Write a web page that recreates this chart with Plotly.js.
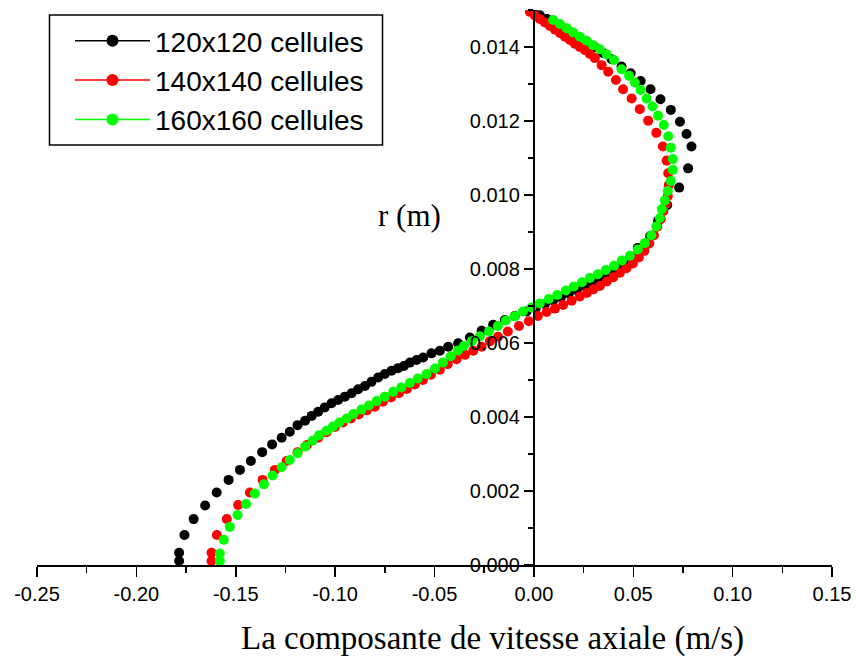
<!DOCTYPE html>
<html>
<head>
<meta charset="utf-8">
<script src="https://cdn.plot.ly/plotly-3.0.1.min.js"></script>
<style>html,body{margin:0;padding:0;background:#fff;}#chart{width:856px;height:659px;}</style>
</head>
<body>
<div id="chart"></div>
<script>
// Series names
const seriesNames = ["120x120 cellules", "140x140 cellules", "160x160 cellules"];
const seriesColors = ["#000000", "#ff0000", "#00ff00"];

// 120x120 cellules : axial velocity (m/s) and radius r (m)
const v120 = [-0.1785,-0.1785,-0.1758,-0.1712,-0.1654,-0.1596,-0.1536,-0.1479,-0.1424,-0.1367,
  -0.1317,-0.1269,-0.1228,-0.1189,-0.1151,-0.1118,-0.1085,-0.1052,-0.1018,-0.0985,
  -0.0951,-0.0917,-0.0884,-0.0850,-0.0817,-0.0783,-0.0750,-0.0716,-0.0683,-0.0654,
  -0.0624,-0.0590,-0.0557,-0.0515,-0.0473,-0.0431,-0.0381,-0.0322,-0.0263,-0.0205,
  -0.0146,-0.0096,-0.0037,0.0010,0.0055,0.0096,0.0136,0.0176,0.0216,0.0257,
  0.0297,0.0337,0.0377,0.0418,0.0453,0.0488,0.0523,0.0585,0.0625,0.0671,
  0.0731,0.0776,0.0793,0.0768,0.0735,0.0689,0.0637,0.0587,0.0537,0.0487,
  0.0441,0.0391,0.0347,0.0307,0.0267,0.0226,0.0186,0.0146,0.0106,0.0065,
  0.0030,-0.0005];
const r120 = [0.00011,0.00033,0.00081,0.00124,0.00161,0.00196,0.00230,0.00257,0.00281,0.00305,
  0.00326,0.00344,0.00360,0.00378,0.00390,0.00403,0.00414,0.00426,0.00437,0.00446,
  0.00455,0.00464,0.00475,0.00484,0.00495,0.00507,0.00516,0.00525,0.00532,0.00538,
  0.00547,0.00554,0.00561,0.00572,0.00579,0.00590,0.00599,0.00615,0.00633,0.00649,
  0.00662,0.00673,0.00685,0.00695,0.00705,0.00715,0.00724,0.00734,0.00743,0.00754,
  0.00765,0.00776,0.00788,0.00801,0.00816,0.00834,0.00857,0.00889,0.00930,0.00973,
  0.01020,0.01072,0.01131,0.01165,0.01198,0.01230,0.01259,0.01286,0.01308,0.01329,
  0.01347,0.01367,0.01384,0.01399,0.01414,0.01427,0.01439,0.01451,0.01464,0.01476,
  0.01486,0.01497];

// 140x140 cellules
const v140 = [-0.1622,-0.1622,-0.1595,-0.1545,-0.1488,-0.1429,-0.1365,-0.1303,-0.1244,-0.1189,
  -0.1142,-0.1085,-0.1043,-0.1001,-0.0961,-0.0921,-0.0881,-0.0840,-0.0800,-0.0760,
  -0.0719,-0.0679,-0.0639,-0.0599,-0.0558,-0.0518,-0.0473,-0.0433,-0.0389,-0.0347,
  -0.0305,-0.0263,-0.0221,-0.0180,-0.0131,-0.0075,-0.0025,0.0020,0.0064,0.0106,
  0.0147,0.0190,0.0231,0.0267,0.0299,0.0332,0.0367,0.0400,0.0433,0.0466,
  0.0498,0.0528,0.0556,0.0581,0.0604,0.0621,0.0639,0.0652,0.0664,0.0674,
  0.0679,0.0676,0.0668,0.0649,0.0616,0.0575,0.0533,0.0492,0.0449,0.0413,
  0.0374,0.0341,0.0307,0.0282,0.0257,0.0231,0.0206,0.0181,0.0156,0.0131,
  0.0106,0.0081,0.0055,0.0030,0.0005,-0.0020];
const r140 = [0.00011,0.00033,0.00081,0.00124,0.00162,0.00196,0.00230,0.00257,0.00281,0.00305,
  0.00324,0.00344,0.00359,0.00373,0.00385,0.00396,0.00407,0.00418,0.00428,0.00441,
  0.00453,0.00464,0.00476,0.00488,0.00500,0.00514,0.00528,0.00543,0.00556,0.00568,
  0.00579,0.00590,0.00605,0.00617,0.00631,0.00646,0.00659,0.00673,0.00684,0.00693,
  0.00703,0.00714,0.00726,0.00735,0.00745,0.00754,0.00766,0.00778,0.00790,0.00802,
  0.00815,0.00831,0.00849,0.00869,0.00891,0.00914,0.00935,0.00957,0.00976,0.00997,
  0.01027,0.01059,0.01093,0.01131,0.01168,0.01201,0.01232,0.01261,0.01286,0.01311,
  0.01333,0.01351,0.01370,0.01381,0.01391,0.01400,0.01409,0.01419,0.01428,0.01438,
  0.01447,0.01457,0.01466,0.01476,0.01485,0.01495];

// 160x160 cellules
const v160 = [-0.1580,-0.1580,-0.1560,-0.1530,-0.1491,-0.1448,-0.1404,-0.1358,-0.1315,-0.1269,
  -0.1228,-0.1189,-0.1151,-0.1113,-0.1080,-0.1043,-0.1011,-0.0979,-0.0942,-0.0908,
  -0.0867,-0.0830,-0.0791,-0.0750,-0.0708,-0.0667,-0.0624,-0.0584,-0.0540,-0.0498,
  -0.0458,-0.0418,-0.0382,-0.0352,-0.0312,-0.0272,-0.0226,-0.0181,-0.0141,-0.0096,
  -0.0055,-0.0012,0.0030,0.0075,0.0118,0.0161,0.0201,0.0242,0.0282,0.0322,
  0.0362,0.0403,0.0443,0.0483,0.0523,0.0558,0.0591,0.0616,0.0634,0.0644,
  0.0659,0.0674,0.0689,0.0699,0.0699,0.0689,0.0676,0.0654,0.0625,0.0597,
  0.0567,0.0537,0.0508,0.0479,0.0441,0.0403,0.0366,0.0332,0.0298,0.0265,
  0.0231,0.0198,0.0165,0.0131,0.0097];
const r160 = [0.00011,0.00031,0.00068,0.00103,0.00135,0.00165,0.00193,0.00218,0.00242,0.00264,
  0.00284,0.00302,0.00320,0.00336,0.00351,0.00363,0.00374,0.00385,0.00396,0.00408,
  0.00420,0.00431,0.00443,0.00455,0.00468,0.00480,0.00492,0.00504,0.00516,0.00531,
  0.00547,0.00564,0.00580,0.00592,0.00605,0.00618,0.00631,0.00646,0.00661,0.00672,
  0.00685,0.00696,0.00707,0.00719,0.00730,0.00742,0.00753,0.00764,0.00776,0.00786,
  0.00797,0.00809,0.00823,0.00836,0.00853,0.00870,0.00891,0.00915,0.00938,0.00962,
  0.00986,0.01011,0.01038,0.01068,0.01097,0.01128,0.01159,0.01189,0.01214,0.01239,
  0.01261,0.01284,0.01304,0.01322,0.01340,0.01365,0.01380,0.01394,0.01405,0.01417,
  0.01428,0.01439,0.01451,0.01462,0.01473];

// Tick labels
const xTickVals = [-0.25,-0.20,-0.15,-0.10,-0.05,0.00,0.05,0.10,0.15];
const xTickText = ["-0.25","-0.20","-0.15","-0.10","-0.05","0.00","0.05","0.10","0.15"];
const yTickVals = [0.000,0.002,0.004,0.006,0.008,0.010,0.012,0.014];
const yTickText = ["0.000","0.002","0.004","0.006","0.008","0.010","0.012","0.014"];

const xs = [v120, v140, v160];
const ys = [r120, r140, r160];
// data traces: markers only (as in the original plot)
const traces = xs.map((x, i) => ({
  type: "scatter",
  mode: "markers",
  x: x,
  y: ys[i],
  name: seriesNames[i],
  legendgroup: "g" + i,
  showlegend: false,
  marker: {color: seriesColors[i], size: 10, symbol: "circle"}
}));
// legend entries: line + symbol sample
seriesNames.forEach((n, i) => traces.push({
  type: "scatter",
  mode: "lines+markers",
  x: [null], y: [null],
  name: n,
  legendgroup: "g" + i,
  showlegend: true,
  line: {color: seriesColors[i], width: 1.5},
  marker: {color: seriesColors[i], size: 12, symbol: "circle"}
}));

const tickFont = {family: "Liberation Sans, Arial, sans-serif", size: 20, color: "#000"};
const px = (x) => (x - 37) / 795;
const py = (y) => 1 - (y - 10) / 555;
const layout = {
  width: 856, height: 659,
  margin: {l: 37, r: 24, t: 10, b: 94, pad: 0},
  paper_bgcolor: "#fff", plot_bgcolor: "#fff",
  showlegend: true,
  legend: {
    x: px(70), y: py(16), xanchor: "left", yanchor: "top",
    bgcolor: "rgba(0,0,0,0)", borderwidth: 0,
    font: {family: "Liberation Sans, Arial, sans-serif", size: 28, color: "#000"},
    itemwidth: 75, tracegroupgap: 0
  },
  shapes: [
    {type: "rect", xref: "paper", yref: "paper", x0: px(49.5), x1: px(382.5), y0: py(145), y1: py(15),
     line: {color: "#000", width: 1.5}, fillcolor: "#fff", layer: "above"}
  ],
  xaxis: {
    range: [-0.25, 0.15], showgrid: false, zeroline: false,
    showline: true, linecolor: "#000", linewidth: 2,
    ticks: "outside", ticklen: 10, tickwidth: 1.5, tickcolor: "#000",
    tickvals: xTickVals, ticktext: xTickText, tickfont: tickFont,
    minor: {dtick: 0.025, tick0: 0, ticks: "outside", ticklen: 6, tickwidth: 1.5, tickcolor: "#000", showgrid: false}
  },
  yaxis: {
    range: [0, 0.015], showgrid: false, zeroline: false,
    anchor: "free", position: 0.625, side: "left",
    showline: true, linecolor: "#000", linewidth: 2,
    ticks: "outside", ticklen: 9, tickwidth: 1.5, tickcolor: "#000",
    tickvals: yTickVals, ticktext: yTickText, tickfont: tickFont,
    minor: {dtick: 0.001, tick0: 0, ticks: "outside", ticklen: 5, tickwidth: 1.5, tickcolor: "#000", showgrid: false}
  },
  annotations: [
    {text: "La composante de vitesse axiale (m/s)", xref: "paper", yref: "paper",
     x: px(492), y: py(638), xanchor: "center", yanchor: "middle", showarrow: false,
     font: {family: "Liberation Serif, Times New Roman, serif", size: 33, color: "#000"}},
    {text: "r (m)", xref: "paper", yref: "paper",
     x: px(409), y: py(215), xanchor: "center", yanchor: "middle", showarrow: false,
     font: {family: "Liberation Serif, Times New Roman, serif", size: 31, color: "#000"}}
  ]
};

Plotly.newPlot("chart", traces, layout, {displayModeBar: false, staticPlot: true});
</script>
</body>
</html>
